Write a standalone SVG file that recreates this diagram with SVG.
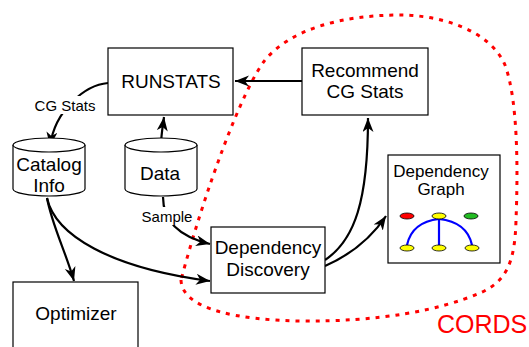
<svg xmlns="http://www.w3.org/2000/svg" width="529" height="347" viewBox="0 0 529 347">
<defs>
<style>
.box{fill:#fff;stroke:#000;stroke-width:1.2}
.t{font-family:"Liberation Sans",Arial,sans-serif;fill:#000;text-anchor:middle}
.edge{fill:none;stroke:#000;stroke-width:2.2}
.lbl{font-family:"Liberation Sans",Arial,sans-serif;font-size:15px;fill:#000;text-anchor:middle}
.gn{stroke:#000;stroke-width:0.8}
.ge{fill:none;stroke:#0000ff;stroke-width:2.2}
</style>
<marker id="ah" markerUnits="userSpaceOnUse" markerWidth="16" markerHeight="12" refX="14" refY="5.5" orient="auto">
<path d="M0,0 L14,5.5 L0,11 L4,5.5 Z" fill="#000"/>
</marker>
</defs>
<rect width="529" height="347" fill="#fff"/>

<g id="cords-boundary">
<path d="M181,280 C182,310 240,320 300,321 C380,322 440,310 480,293 C505,282 515,265 516,220 C518,170 518,100 505,65 C490,30 440,15 400,15 C340,15 290,30 265,60 C242,90 205,190 181,280 Z" fill="none" stroke="#ff0000" stroke-width="3" stroke-dasharray="4 6"/>
<text x="437" y="333" style="font-family:'Liberation Sans',Arial,sans-serif;font-size:25px;fill:#ff0000">CORDS</text>
</g>

<g id="connectors">
<path class="edge" d="M302,81 L235,81" marker-end="url(#ah)"/>
<path class="edge" d="M108,83 C85,85 55,110 50,146" marker-end="url(#ah)"/>
<path class="edge" d="M161,146 C161,135 163,125 164,117" marker-end="url(#ah)"/>
<path class="edge" d="M163,197 C163,225 185,238 210,244" marker-end="url(#ah)"/>
<path class="edge" d="M47,198 C55,235 110,268 210,281" marker-end="url(#ah)"/>
<path class="edge" d="M47,198 C52,225 65,250 74,281" marker-end="url(#ah)"/>
<path class="edge" d="M325,260 C355,240 368,200 368,118" marker-end="url(#ah)"/>
<path class="edge" d="M325,266 C350,255 370,240 386,216" marker-end="url(#ah)"/>
<rect x="34" y="96" width="62" height="18" fill="#fff"/>
<text class="lbl" x="65" y="111">CG Stats</text>
<rect x="141" y="207" width="53" height="18" fill="#fff"/>
<text class="lbl" x="167" y="222">Sample</text>
</g>

<g id="runstats">
<rect class="box" x="108" y="48" width="125" height="67"/>
<text class="t" x="171" y="88" font-size="19">RUNSTATS</text>
</g>

<g id="recommend">
<rect class="box" x="302" y="48" width="126" height="67"/>
<text class="t" x="365" y="77" font-size="19">Recommend</text>
<text class="t" x="365" y="98" font-size="19">CG Stats</text>
</g>

<g id="catalog">
<path class="box" d="M13,145 A36,7 0 0 1 85,145 L85,189 A36,7 0 0 1 13,189 Z"/>
<path class="box" fill="none" d="M13,145 A36,7 0 0 0 85,145"/>
<text class="t" x="49" y="171" font-size="19">Catalog</text>
<text class="t" x="49" y="192" font-size="19">Info</text>
</g>

<g id="data">
<path class="box" d="M125,145 A36,7 0 0 1 197,145 L197,189 A36,7 0 0 1 125,189 Z"/>
<path class="box" fill="none" d="M125,145 A36,7 0 0 0 197,145"/>
<text class="t" x="160" y="180" font-size="19">Data</text>
</g>

<g id="discovery">
<rect class="box" x="211" y="227" width="114" height="66"/>
<text class="t" x="268" y="254" font-size="19">Dependency</text>
<text class="t" x="268" y="276" font-size="19">Discovery</text>
</g>

<g id="optimizer">
<rect class="box" x="13" y="282" width="125" height="80"/>
<text class="t" x="76" y="320" font-size="19">Optimizer</text>
</g>

<g id="depgraph">
<rect class="box" x="388" y="155" width="112" height="108"/>
<text class="t" x="441" y="177" font-size="17">Dependency</text>
<text class="t" x="441" y="195" font-size="17">Graph</text>
<path class="ge" d="M439,219 Q412,222 407,245"/>
<path class="ge" d="M439,219 L439,245"/>
<path class="ge" d="M439,219 Q467,222 472,245"/>
<ellipse class="gn" cx="407" cy="216" rx="7" ry="3" fill="#ff0000"/>
<ellipse class="gn" cx="439" cy="216" rx="7" ry="3" fill="#ffff00"/>
<ellipse class="gn" cx="471" cy="216" rx="7" ry="3" fill="#22bb22"/>
<ellipse class="gn" cx="407" cy="248" rx="7" ry="3" fill="#ffff00"/>
<ellipse class="gn" cx="439" cy="248" rx="7" ry="3" fill="#ffff00"/>
<ellipse class="gn" cx="472" cy="248" rx="7" ry="3" fill="#ffff00"/>
</g>
</svg>
